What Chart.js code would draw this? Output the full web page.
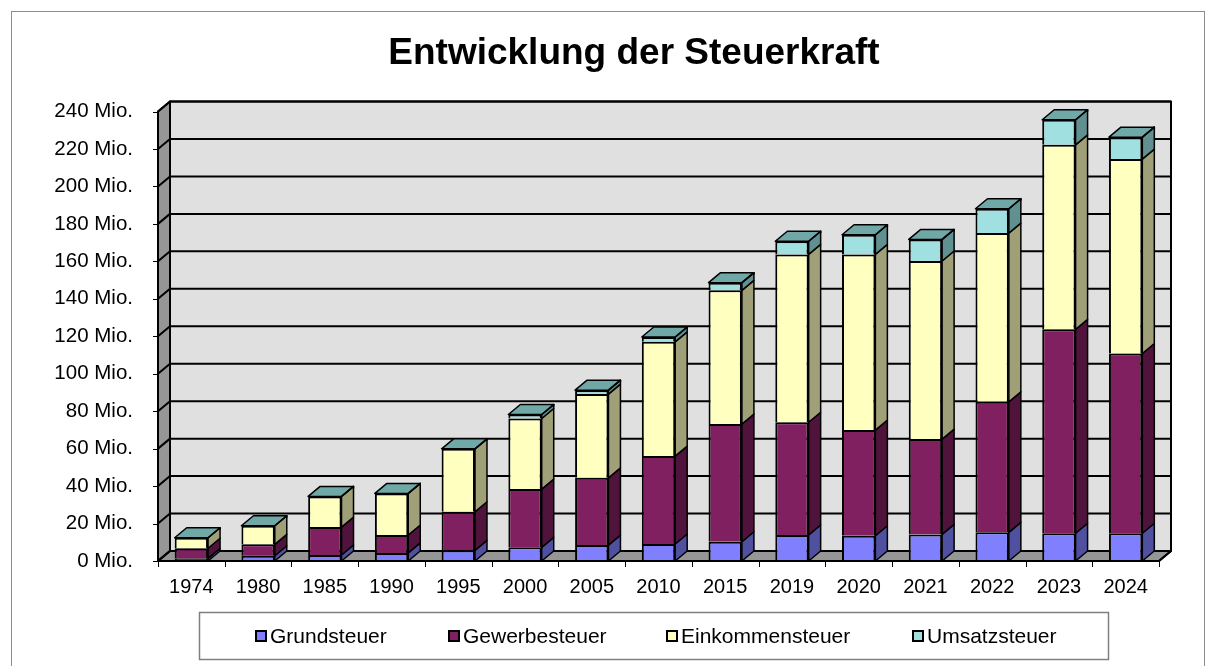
<!DOCTYPE html>
<html lang="de">
<head>
<meta charset="utf-8">
<title>Entwicklung der Steuerkraft</title>
<script src="https://cdn.jsdelivr.net/npm/chart.js@4.4.1/dist/chart.umd.min.js"></script>
<style>
  html, body { margin: 0; padding: 0; background: #fff; }
  canvas { display: block; }
</style>
</head>
<body>
<canvas id="chart" width="1206" height="666"></canvas>
<script>
// ===== Daten (Mio. Euro) =====
const jahre = ["1974", "1980", "1985", "1990", "1995", "2000", "2005", "2010", "2015", "2019", "2020", "2021", "2022", "2023", "2024"];
const grundsteuer     = [1.4, 2.8, 3.2, 4.3, 5.7, 7.3, 8.5, 9.1, 10.3, 13.9, 13.5, 14.2, 15.3, 14.8, 14.8];
const gewerbesteuer   = [5.4, 6.1, 14.9, 9.6, 20.6, 31.1, 35.9, 46.9, 62.8, 60.2, 56.4, 50.9, 69.7, 108.9, 96.0];
const einkommensteuer = [5.6, 9.9, 16.4, 22.2, 33.6, 37.7, 44.7, 61.0, 71.4, 89.6, 93.8, 95.1, 90.1, 98.5, 103.8];
const umsatzsteuer    = [0, 0, 0, 0, 0, 2.1, 2.1, 2.6, 4.1, 7.0, 10.5, 11.5, 13.0, 13.4, 11.7];
const yTicks = [0, 20, 40, 60, 80, 100, 120, 140, 160, 180, 200, 220, 240];

// Farben wie im alten Excel-Diagramm: Vorderseite / Seite
const FRONT = ["#8080ff", "#802060", "#ffffc0", "#a0e0e0"];
const SEITE = ["#5050a0", "#50143c", "#a0a078", "#609090"];
const DECKEL = "#70a8a8";
const DX = 12, DY = -10;   // Tiefe der 3D-Darstellung
const SCHRIFT = "'Liberation Sans', Arial, sans-serif";

function flaeche(ctx, pts, fill) {
  ctx.beginPath();
  ctx.moveTo(pts[0][0], pts[0][1]);
  for (let i = 1; i < pts.length; i++) ctx.lineTo(pts[i][0], pts[i][1]);
  ctx.closePath();
  if (fill) { ctx.fillStyle = fill; ctx.fill(); }
  ctx.stroke();
}

// ===== Wände, Boden und Gitter (hinter den Säulen) =====
const waende = {
  id: "waende",
  beforeDatasetsDraw(chart) {
    const { ctx, chartArea: a, scales: { y } } = chart;
    ctx.save();
    ctx.strokeStyle = "#000";
    ctx.lineWidth = 2;
    ctx.lineJoin = "round";
    ctx.fillStyle = "#e0e0e0";
    ctx.fillRect(a.left + DX, a.top + DY, a.right - a.left, a.bottom - a.top);
    flaeche(ctx, [[a.left, a.top], [a.left + DX, a.top + DY], [a.left + DX, a.bottom + DY], [a.left, a.bottom]], "#969696");
    flaeche(ctx, [[a.left, a.bottom], [a.left + DX, a.bottom + DY], [a.right + DX, a.bottom + DY], [a.right, a.bottom]], "#969696");
    yTicks.forEach(v => {
      const py = y.getPixelForValue(v);
      ctx.beginPath();
      ctx.moveTo(a.left, py);
      ctx.lineTo(a.left + DX, py + DY);
      ctx.lineTo(a.right + DX, py + DY);
      ctx.stroke();
    });
    ctx.strokeRect(a.left + DX, a.top + DY, a.right - a.left, a.bottom - a.top);
    ctx.restore();
  }
};

// ===== Seiten und Deckel der Säulen =====
const saeulen3d = {
  id: "saeulen3d",
  afterDatasetsDraw(chart) {
    const ctx = chart.ctx;
    ctx.save();
    ctx.strokeStyle = "#000";
    ctx.lineWidth = 1.5;
    ctx.lineJoin = "round";
    chart.data.datasets.forEach((ds, i) => {
      chart.getDatasetMeta(i).data.forEach(bar => {
        const { x, y, base, width } = bar.getProps(["x", "y", "base", "width"], true);
        if (Math.abs(base - y) < 0.5) return;
        const r = x + width / 2;
        flaeche(ctx, [[r, y], [r + DX, y + DY], [r + DX, base + DY], [r, base]], SEITE[i]);
      });
    });
    const letzte = chart.getDatasetMeta(chart.data.datasets.length - 1).data;
    letzte.forEach(bar => {
      const { x, y, width } = bar.getProps(["x", "y", "width"], true);
      const l = x - width / 2, r = x + width / 2;
      flaeche(ctx, [[l, y], [l + DX, y + DY], [r + DX, y + DY], [r, y]], DECKEL);
      ctx.beginPath();
      ctx.moveTo(r, y); ctx.lineTo(r + DX, y + DY); ctx.lineTo(r + DX, y + DY + 2);
      ctx.stroke();
    });
    ctx.restore();
  }
};

// ===== Achsenkanten, Titel, Legende, Rahmen =====
const beschriftung = {
  id: "beschriftung",
  afterDraw(chart) {
    const { ctx, chartArea: a, scales: { x, y } } = chart;
    ctx.save();
    ctx.strokeStyle = "#000";
    ctx.lineWidth = 2;
    ctx.beginPath();
    ctx.moveTo(a.left, a.top); ctx.lineTo(a.left, a.bottom); ctx.lineTo(a.right, a.bottom);
    ctx.lineTo(a.right + DX, a.bottom + DY);
    ctx.stroke();

    // Teilstriche
    ctx.lineWidth = 1;
    yTicks.forEach(v => {
      const py = Math.round(y.getPixelForValue(v)) + 0.5;
      ctx.beginPath(); ctx.moveTo(a.left - 5, py); ctx.lineTo(a.left, py); ctx.stroke();
    });
    const w = (a.right - a.left) / jahre.length;
    for (let k = 0; k <= jahre.length; k++) {
      const px = Math.round(a.left + k * w) + 0.5;
      ctx.beginPath(); ctx.moveTo(px, a.bottom); ctx.lineTo(px, a.bottom + 6); ctx.stroke();
    }

    // Titel
    ctx.fillStyle = "#000";
    ctx.font = "bold 37px " + SCHRIFT;
    ctx.textAlign = "center";
    ctx.textBaseline = "alphabetic";
    ctx.fillText("Entwicklung der Steuerkraft", 634, 64);

    // Legende
    ctx.strokeStyle = "#808080";
    ctx.lineWidth = 1.5;
    ctx.strokeRect(199.5, 612.5, 909, 47);
    const posX = [256, 449, 667, 913];
    ctx.font = "21px " + SCHRIFT;
    ctx.textAlign = "left";
    ctx.textBaseline = "middle";
    chart.data.datasets.forEach((ds, i) => {
      ctx.fillStyle = FRONT[i];
      ctx.strokeStyle = "#000";
      ctx.lineWidth = 2;
      ctx.fillRect(posX[i], 631, 10, 10);
      ctx.strokeRect(posX[i], 631, 10, 10);
      ctx.fillStyle = "#000";
      ctx.fillText(ds.label, posX[i] + 14, 637);
    });

    // Rahmen des Diagramms
    ctx.strokeStyle = "#8c8c8c";
    ctx.lineWidth = 1;
    ctx.strokeRect(11.5, 11.5, 1193, 720);
    ctx.restore();
  }
};

const datensaetze = [
  { label: "Grundsteuer", data: grundsteuer },
  { label: "Gewerbesteuer", data: gewerbesteuer },
  { label: "Einkommensteuer", data: einkommensteuer },
  { label: "Umsatzsteuer", data: umsatzsteuer },
].map((d, i) => ({
  ...d,
  backgroundColor: FRONT[i],
  borderColor: "#000",
  borderWidth: 2,
  borderSkipped: "start",
  categoryPercentage: 1,
  barPercentage: 0.5,
}));

new Chart(document.getElementById("chart"), {
  type: "bar",
  data: { labels: jahre, datasets: datensaetze },
  options: {
    responsive: false,
    animation: false,
    devicePixelRatio: 1,
    layout: { padding: { top: 111.5, right: 47, bottom: 55, left: 0 } },
    plugins: { legend: { display: false }, title: { display: false }, tooltip: { enabled: false } },
    scales: {
      x: {
        stacked: true,
        grid: { display: false, drawTicks: false },
        border: { display: false },
        ticks: { color: "#000", font: { family: SCHRIFT, size: 20 }, padding: 14, maxRotation: 0, autoSkip: false },
        afterFit: s => { s.height = 50; },
      },
      y: {
        stacked: true,
        min: 0,
        max: 240,
        grid: { display: false, drawTicks: false },
        border: { display: false },
        ticks: {
          stepSize: 20,
          color: "#000",
          font: { family: SCHRIFT, size: 20.5 },
          padding: 25,
          callback: v => v + " Mio.",
        },
        afterFit: s => { s.width = 158; },
      },
    },
  },
  plugins: [waende, saeulen3d, beschriftung],
});
</script>
</body>
</html>
